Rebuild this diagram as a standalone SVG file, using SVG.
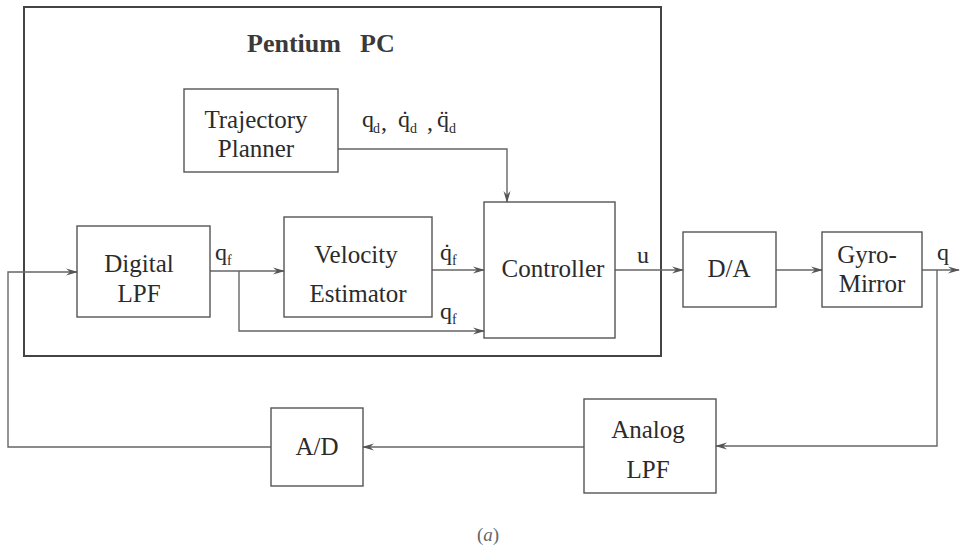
<svg xmlns="http://www.w3.org/2000/svg" width="960" height="550" viewBox="0 0 960 550">
<style>
.box{fill:none;stroke:#555;stroke-width:1.4}
.frame{fill:none;stroke:#444;stroke-width:2}
.ln{fill:none;stroke:#666;stroke-width:1.4}
text{font-family:'Liberation Serif','DejaVu Serif',serif;fill:#2b2b2b}
.lbl{font-size:25px;text-anchor:middle}
.sym{font-size:24px}
.sub{font-size:14px}
.title{font-size:26px;font-weight:bold;fill:#3a3a3a}
</style>
<defs>
<marker id="arr" viewBox="0 0 12 8" refX="11" refY="4" markerWidth="12" markerHeight="8" markerUnits="userSpaceOnUse" orient="auto">
<path d="M0,0.5 L12,4 L0,7.5 L4,4 z" fill="#555"/>
</marker>
</defs>
<rect width="960" height="550" fill="#fff"/>
<g id="pentium-pc">
<rect class="frame" x="24" y="7" width="637" height="349"/>
<text class="title" x="247" y="52">Pentium</text>
<text class="title" x="360" y="52">PC</text>
</g>
<g id="connectors">
<path class="ln" d="M271,447 H8 V272 H77" marker-end="url(#arr)"/>
<path class="ln" d="M210,271 H284" marker-end="url(#arr)"/>
<path class="ln" d="M239,271 V331 H484" marker-end="url(#arr)"/>
<path class="ln" d="M432,270 H484" marker-end="url(#arr)"/>
<path class="ln" d="M338,149 H507 V202" marker-end="url(#arr)"/>
<path class="ln" d="M615,270 H683" marker-end="url(#arr)"/>
<path class="ln" d="M776,270 H822" marker-end="url(#arr)"/>
<path class="ln" d="M922,270 H959" marker-end="url(#arr)"/>
<path class="ln" d="M937,270 V446 H716" marker-end="url(#arr)"/>
<path class="ln" d="M584,447 H363" marker-end="url(#arr)"/>
</g>
<g id="trajectory-planner">
<rect class="box" x="184" y="89" width="154" height="83"/>
<text class="lbl" x="256" y="128">Trajectory</text>
<text class="lbl" x="256" y="157">Planner</text>
</g>
<g id="digital-lpf">
<rect class="box" x="77" y="226" width="133" height="91"/>
<text class="lbl" x="139" y="272">Digital</text>
<text class="lbl" x="139" y="302">LPF</text>
</g>
<g id="velocity-estimator">
<rect class="box" x="284" y="217" width="148" height="100"/>
<text class="lbl" x="356" y="263">Velocity</text>
<text class="lbl" x="358" y="302">Estimator</text>
</g>
<g id="controller">
<rect class="box" x="484" y="202" width="131" height="136"/>
<text class="lbl" x="553" y="277">Controller</text>
</g>
<g id="da">
<rect class="box" x="683" y="232" width="93" height="75"/>
<text class="lbl" x="729" y="277">D/A</text>
</g>
<g id="gyro-mirror">
<rect class="box" x="822" y="232" width="100" height="75"/>
<text class="lbl" x="867" y="263">Gyro-</text>
<text class="lbl" x="872" y="292">Mirror</text>
</g>
<g id="analog-lpf">
<rect class="box" x="584" y="399" width="132" height="94"/>
<text class="lbl" x="648" y="438">Analog</text>
<text class="lbl" x="648" y="478">LPF</text>
</g>
<g id="ad">
<rect class="box" x="271" y="408" width="92" height="78"/>
<text class="lbl" x="317" y="455">A/D</text>
</g>
<g id="labels">
<text class="sym" x="362" y="127">q</text><text class="sub" x="373" y="133">d</text><text class="sym" x="381" y="130">,</text>
<text class="sym" x="398" y="127">q̇</text><text class="sub" x="410" y="133">d</text><text class="sym" x="427" y="130">,</text>
<text class="sym" x="437" y="127">q̈</text><text class="sub" x="449" y="133">d</text>
<text class="sym" x="215" y="260">q</text><text class="sub" x="227" y="265">f</text>
<text class="sym" x="440" y="260">q̇</text><text class="sub" x="452" y="265">f</text>
<text class="sym" x="440" y="319">q</text><text class="sub" x="452" y="324">f</text>
<text class="sym" x="637" y="263">u</text>
<text class="sym" x="937" y="260">q</text>
</g>
<g id="caption">
<text x="488" y="541" style="font-size:19px;text-anchor:middle;fill:#666">(<tspan font-style="italic">a</tspan>)</text>
</g>
</svg>
